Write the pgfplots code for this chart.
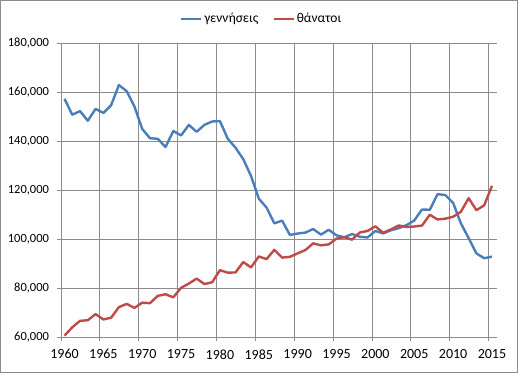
\documentclass[border=0pt]{standalone}
\usepackage{pgfplots}
\pgfplotsset{compat=1.18}
\usepackage{pgfplotstable}
\usepackage{fontspec}
\setmainfont{Carlito}
\definecolor{excelblue}{HTML}{4A7EBB}
\definecolor{excelred}{HTML}{BE4B48}
\definecolor{gridgray}{HTML}{8C8C8C}

\pgfplotstableread{
year births deaths
1960 157239 60563
1961 150716 63955
1962 152209 66600
1963 148249 66848
1964 153109 69359
1965 151448 67159
1966 154613 67880
1967 162839 72180
1968 160338 73524
1969 154077 71869
1970 144928 74009
1971 141126 73819
1972 140891 76790
1973 137526 77460
1974 144069 76191
1975 142273 80077
1976 146566 81818
1977 143739 83847
1978 146588 81615
1979 147965 82338
1980 148134 87282
1981 140953 86261
1982 137275 86345
1983 132608 90586
1984 125724 88397
1985 116481 92886
1986 112810 91783
1987 106392 95592
1988 107505 92407
1989 101657 92720
1990 102229 94152
1991 102620 95498
1992 104081 98231
1993 101799 97419
1994 103763 97807
1995 101495 100158
1996 100718 100740
1997 102038 99738
1998 100894 102668
1999 100643 103304
2000 103274 105170
2001 102282 102559
2002 103569 103915
2003 104420 105529
2004 105655 104942
2005 107545 105091
2006 112042 105476
2007 111926 109895
2008 118302 107979
2009 117933 108316
2010 114766 109084
2011 106428 111099
2012 100371 116668
2013 94134 111794
2014 92149 113740
2015 92800 121700
}\data

\begin{document}
\begin{tikzpicture}[x=1pt,y=1pt]
\path[use as bounding box] (0,0) rectangle (518,373);
\draw[gridgray, line width=0.75pt] (0.5,0.5) rectangle (517.5,372.5);
\begin{axis}[
  at={(61pt,36pt)}, anchor=south west,
  scale only axis, width=436pt, height=294pt,
  xmin=1960, xmax=2016.1, ymin=60000, ymax=180000,
  xtick={1960,1965,...,2015}, ytick={60000,80000,...,180000},
  grid=major, grid style={gridgray, line width=0.75pt},
  axis line style={draw=none},
  tick style={gridgray, line width=0.75pt}, tick align=outside, major tick length=4pt,
  xtick pos=bottom, ytick pos=left,
  scaled y ticks=false,
  xticklabel style={font=\fontsize{14}{16}\selectfont, /pgf/number format/1000 sep={}, /pgf/number format/assume math mode=true, xshift=3.5pt, yshift=-5pt},
  yticklabel style={font=\fontsize{12.5}{15}\selectfont, /pgf/number format/1000 sep={,}, /pgf/number format/fixed, /pgf/number format/assume math mode=true, xshift=-4.5pt},
  legend columns=2,
  legend style={at={(0.46,1.082)}, anchor=center, draw=none, fill=none, font=\fontsize{13.5}{15}\selectfont,
    /tikz/every even column/.append style={column sep=12pt}},
  legend image code/.code={\draw[#1] (0pt,0pt) -- (20pt,0pt);},
]
\addplot[excelblue, line width=2.4pt, line join=round] table[x expr=\thisrow{year}+0.45, y=births] {\data};
\addlegendentry{γεννήσεις}
\addplot[excelred, line width=2.4pt, line join=round] table[x expr=\thisrow{year}+0.45, y=deaths] {\data};
\addlegendentry{θάνατοι}
\end{axis}
\end{tikzpicture}
\end{document}
